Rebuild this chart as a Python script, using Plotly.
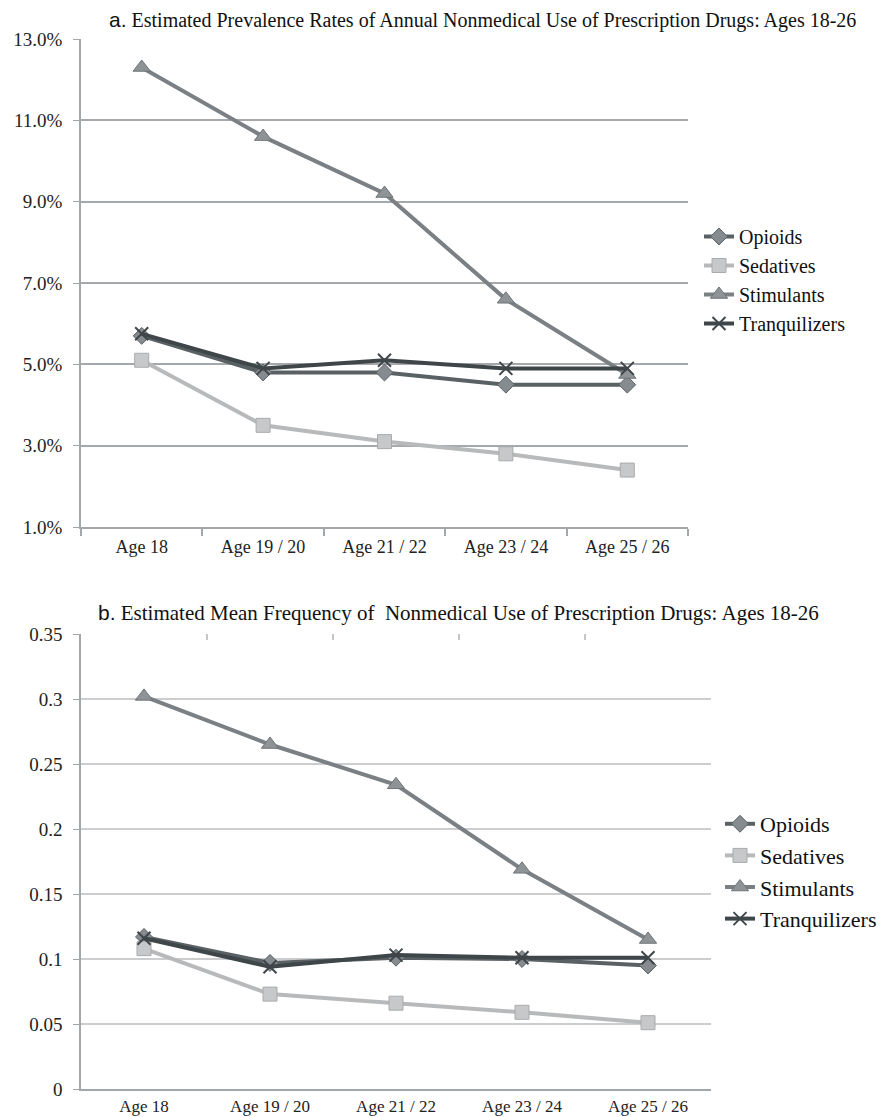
import plotly.graph_objects as go

categories = ["Age 18", "Age 19 / 20", "Age 21 / 22", "Age 23 / 24", "Age 25 / 26"]
series_names = ["Opioids", "Sedatives", "Stimulants", "Tranquilizers"]

# Panel a: prevalence (%)
prev_opioids = [5.7, 4.8, 4.8, 4.5, 4.5]
prev_sedatives = [5.1, 3.5, 3.1, 2.8, 2.4]
prev_stimulants = [12.3, 10.6, 9.2, 6.6, 4.75]
prev_tranquilizers = [5.75, 4.9, 5.1, 4.9, 4.9]

# Panel b: mean frequency
freq_opioids = [0.117, 0.097, 0.101, 0.100, 0.095]
freq_sedatives = [0.108, 0.073, 0.066, 0.059, 0.051]
freq_stimulants = [0.302, 0.265, 0.234, 0.169, 0.115]
freq_tranquilizers = [0.116, 0.094, 0.103, 0.101, 0.101]

y_a_ticks = [1, 3, 5, 7, 9, 11, 13]
y_b_ticks = [0, 0.05, 0.1, 0.15, 0.2, 0.25, 0.3, 0.35]
y_b_labels = ["0", "0.05", "0.1", "0.15", "0.2", "0.25", "0.3", "0.35"]

FONT = "Liberation Serif"
SANS = "Liberation Sans"

styles = {
    "Opioids": dict(line="#5a6165", mfill="#858b8e", mline="#5a6165", symbol="diamond", size=13),
    "Sedatives": dict(line="#b7b9ba", mfill="#c6c8c9", mline="#a9abac", symbol="square", size=14),
    "Stimulants": dict(line="#7a8083", mfill="#8e9395", mline="#6f7578", symbol="triangle-up", size=15),
    "Tranquilizers": dict(line="#3f464a", mfill="#3f464a", mline="#3f464a", symbol="x-thin", size=13),
}

xs = list(range(len(categories)))
fig = go.Figure()

panel_a = {"Opioids": prev_opioids, "Sedatives": prev_sedatives,
           "Stimulants": prev_stimulants, "Tranquilizers": prev_tranquilizers}
panel_b = {"Opioids": freq_opioids, "Sedatives": freq_sedatives,
           "Stimulants": freq_stimulants, "Tranquilizers": freq_tranquilizers}

def marker_for(name):
    s = styles[name]
    return dict(symbol=s["symbol"], size=s["size"], color=s["mfill"],
                line=dict(color=s["mline"], width=2 if name == "Tranquilizers" else 1))

for name in series_names:
    s = styles[name]
    fig.add_trace(go.Scatter(x=xs, y=panel_a[name], name=name, mode="lines+markers",
                             line=dict(color=s["line"], width=4), marker=marker_for(name),
                             xaxis="x", yaxis="y", legend="legend"))
for name in series_names:
    s = styles[name]
    fig.add_trace(go.Scatter(x=xs, y=panel_b[name], name=name, mode="lines+markers",
                             line=dict(color=s["line"], width=4), marker=marker_for(name),
                             xaxis="x2", yaxis="y2", legend="legend2", legendgroup=name))

# helper trace for the top boundary ticks of panel b
fig.add_trace(go.Scatter(x=[None], y=[None], xaxis="x3", yaxis="y2", showlegend=False,
                         hoverinfo="skip"))

# page body has an 8px default margin: figure occupies screen px 8..888, 8..1117
OFF = 8
W, H = 888 - OFF, 1117 - OFF
bounds = [i - 0.5 for i in range(len(categories) + 1)]

def px_x(v):
    return (v - OFF) / W

def px_y(v):
    return 1 - (v - OFF) / H

axis_col = "#a3a7a9"
common_x = dict(range=[-0.5, len(categories) - 0.5], tickvals=xs, ticktext=categories,
                ticks="", showgrid=False, zeroline=False, showline=True,
                linecolor=axis_col, linewidth=1.5, automargin=False)
common_y = dict(zeroline=False, showline=True, linecolor=axis_col, linewidth=1.5,
                ticks="outside", ticklen=6, tickcolor=axis_col, ticklabelstandoff=7,
                automargin=False, showgrid=True, gridwidth=1.5,
                tickfont=dict(family=FONT, size=19, color="#222"))

fig.update_layout(
    width=W, height=H, margin=dict(l=0, r=0, t=0, b=0, autoexpand=False),
    paper_bgcolor="white", plot_bgcolor="white", showlegend=True,
    font=dict(family=FONT),
    xaxis=dict(**common_x, domain=[px_x(81), px_x(688)], anchor="y",
               minor=dict(tickvals=bounds, ticks="outside", ticklen=7, tickcolor=axis_col,
                          tickwidth=1.5, showgrid=False),
               ticklabelstandoff=3, tickfont=dict(family=FONT, size=18, color="#222")),
    yaxis=dict(**common_y, domain=[px_y(527), px_y(39)], range=[1, 13], tickvals=y_a_ticks,
               ticktext=[f"{v:.1f}%" for v in y_a_ticks], gridcolor="#a5a9ab", anchor="x"),
    xaxis2=dict(**common_x, domain=[px_x(81), px_x(711)], anchor="y2", ticklabelstandoff=1,
                tickfont=dict(family=FONT, size=17, color="#222")),
    yaxis2=dict(**common_y, domain=[px_y(1089), px_y(634)], range=[0, 0.35], tickvals=y_b_ticks,
                ticktext=y_b_labels, gridcolor="#cbcdce", anchor="x2"),
    xaxis3=dict(overlaying="x2", anchor="y2", side="top", range=[-0.5, len(categories) - 0.5],
                tickvals=bounds, ticks="inside", ticklen=6, tickcolor="#c4c6c7", tickwidth=1.5,
                showticklabels=False, showgrid=False, zeroline=False, showline=False,
                automargin=False),
    legend=dict(x=px_x(699), y=px_y(217), xanchor="left", yanchor="top",
                font=dict(family=FONT, size=20, color="#111"), itemwidth=30,
                bgcolor="rgba(0,0,0,0)", tracegroupgap=0),
    legend2=dict(x=px_x(720), y=px_y(803), xanchor="left", yanchor="top",
                 font=dict(family=FONT, size=22, color="#111"), itemwidth=30,
                 bgcolor="rgba(0,0,0,0)", tracegroupgap=0),
    annotations=[
        dict(text=f"<span style='font-family:{SANS};font-size:21px'>a.</span> "
                  "Estimated Prevalence Rates of Annual Nonmedical Use of Prescription Drugs: Ages 18-26",
             xref="paper", yref="paper", x=px_x(482), y=px_y(20), xanchor="center", yanchor="middle",
             showarrow=False, font=dict(family=FONT, size=20, color="#111")),
        dict(text=f"<span style='font-family:{SANS};font-size:21px'>b.</span> "
                  "Estimated Mean Frequency of  Nonmedical Use of Prescription Drugs: Ages 18-26",
             xref="paper", yref="paper", x=px_x(459), y=px_y(613), xanchor="center", yanchor="middle",
             showarrow=False, font=dict(family=FONT, size=21, color="#111")),
    ],
)

fig.write_html("out.html")
